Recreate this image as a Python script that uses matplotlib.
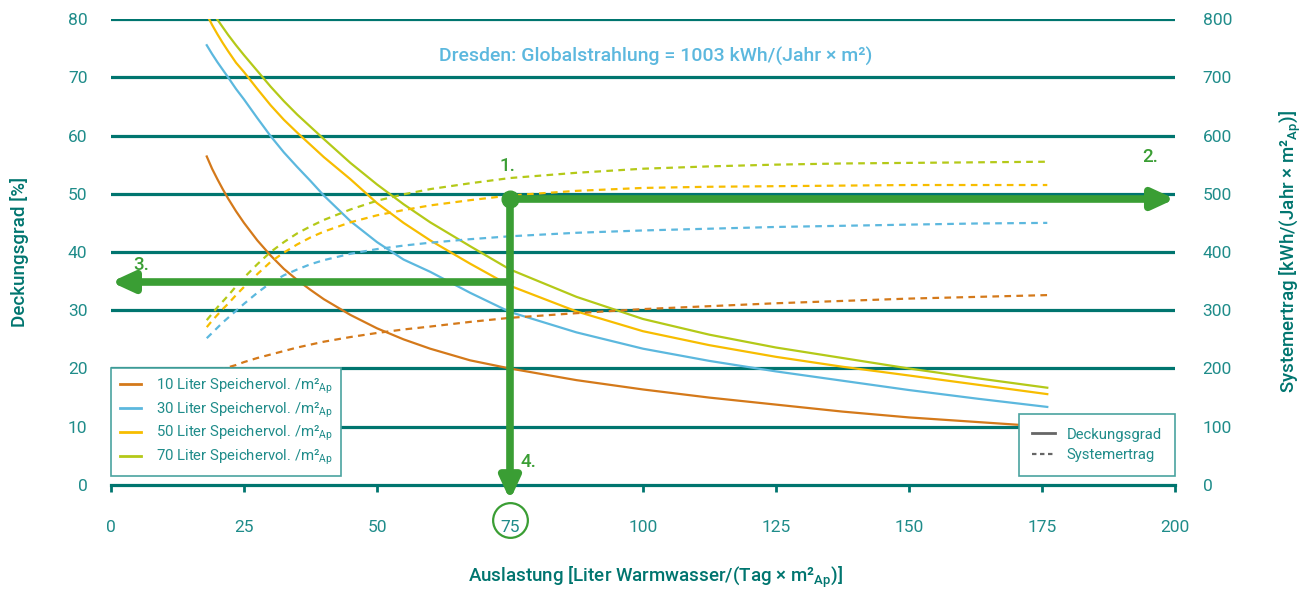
import matplotlib
matplotlib.use("Agg")
import matplotlib.pyplot as plt
from matplotlib.lines import Line2D

plt.rcParams['font.family'] = ['Roboto', 'DejaVu Sans']
plt.rcParams['mathtext.fontset'] = 'custom'
plt.rcParams['mathtext.rm'] = 'Roboto'
plt.rcParams['mathtext.default'] = 'regular'

# data
auslastung = [18, 19, 20, 21, 22, 23.5, 25, 27.5, 30, 32.5, 35, 37.5, 40, 45, 50, 55, 60,
              67.5, 75, 87.5, 100, 112.5, 125, 137.5, 150, 163, 176]
speicher = ["10", "30", "50", "70"]

# Deckungsgrad [%]
deckung_10 = [56.4, 54.3, 52.5, 50.8, 49.2, 47.0, 45.0, 42.0, 39.4, 37.1, 35.2, 33.5, 31.9, 29.2, 26.9,
              25.0, 23.4, 21.4, 20.0, 18.0, 16.4, 15.0, 13.8, 12.6, 11.6, 10.8, 10.0]
deckung_30 = [75.5, 74.0, 72.6, 71.3, 70.0, 68.0, 66.2, 63.0, 59.9, 57.1, 54.6, 52.2, 49.7, 45.3, 41.7,
              38.7, 36.6, 33.0, 29.7, 26.2, 23.4, 21.3, 19.5, 17.9, 16.3, 14.8, 13.4]
deckung_50 = [80.8, 79.0, 77.4, 75.9, 74.5, 72.5, 70.9, 68.0, 65.2, 62.7, 60.5, 58.4, 56.3, 52.5, 48.4,
              45.0, 42.0, 38.0, 34.2, 29.8, 26.4, 24.0, 22.0, 20.3, 18.8, 17.2, 15.6]
deckung_70 = [83.0, 81.4, 79.9, 78.6, 77.3, 75.5, 73.8, 71.1, 68.4, 65.9, 63.6, 61.5, 59.4, 55.3, 51.6,
              48.2, 45.1, 41.0, 37.0, 32.3, 28.5, 25.8, 23.6, 21.8, 20.0, 18.3, 16.7]

# Systemertrag [kWh/(Jahr m2)]
ertrag_10 = [192, 194, 197, 199, 202, 206, 211, 218, 224, 230, 236, 241, 246, 254, 261,
             267, 272, 280, 287, 295, 302, 307, 312, 316, 320, 323, 326]
ertrag_30 = [252, 261, 270, 279, 287, 299, 311, 330, 347, 360, 370, 379, 386, 397, 405,
             411, 416, 422, 427, 433, 437, 440, 443, 445, 447, 449, 450]
ertrag_50 = [271, 282, 292, 302, 311, 326, 340, 362, 383, 399, 413, 425, 435, 451, 463,
             472, 480, 489, 497, 505, 510, 512, 513, 514, 515, 515, 515]
ertrag_70 = [283, 294, 305, 315, 325, 341, 356, 379, 400, 417, 432, 444, 455, 473, 488,
             499, 508, 518, 527, 536, 543, 547, 550, 552, 553, 554, 555]

deckung = {"10": deckung_10, "30": deckung_30, "50": deckung_50, "70": deckung_70}
ertrag = {"10": ertrag_10, "30": ertrag_30, "50": ertrag_50, "70": ertrag_70}
farben = {"10": "#d4791a", "30": "#5cb8de", "50": "#f7bd00", "70": "#b4c918"}

# example reading: 75 l/(d m2) -> 491 kWh and 34.85 %
x_bsp = 75
ertrag_bsp = 491
deckung_bsp = 34.85

teal = "#00756f"
text_teal = "#1f8c8a"
green = "#3a9e34"

fig = plt.figure(figsize=(13.09, 5.89), dpi=100)
ax = fig.add_axes([0.0848, 0.1766, 0.8128, 0.7911])
ax2 = ax.twinx()

ax.set_xlim(0, 200)
ax.set_ylim(0, 80)
ax2.set_ylim(0, 800)

for y in range(10, 81, 10):
    ax.axhline(y, color=teal, lw=2.3, zorder=1)

for s in ["top", "left", "right"]:
    ax.spines[s].set_visible(False)
    ax2.spines[s].set_visible(False)
ax2.spines["bottom"].set_visible(False)
ax.spines["bottom"].set_color(teal)
ax.spines["bottom"].set_linewidth(2.3)

ax.set_xticks(range(0, 201, 25))
ax.set_yticks(range(0, 81, 10))
ax2.set_yticks(range(0, 801, 100))
ax.tick_params(axis="x", colors=teal, labelcolor=text_teal, length=5, width=2, pad=20, labelsize=12.5)
ax.tick_params(axis="y", length=0, labelcolor=text_teal, pad=17, labelsize=12.5)
ax2.tick_params(axis="y", length=0, labelcolor=text_teal, pad=20, labelsize=12.5)

for k in speicher:
    ax.plot(auslastung, deckung[k], color=farben[k], lw=1.6, zorder=3)
    ax2.plot(auslastung, ertrag[k], color=farben[k], lw=1.6, dashes=(3, 2.4), zorder=3)

ax.set_xlabel("Auslastung [Liter Warmwasser/(Tag × m²$_{Ap}$)]", color=teal, fontsize=13.5, fontweight="medium", labelpad=22)
ax.xaxis.label.set_x(0.512)
ax.set_ylabel("Deckungsgrad [%]", color=teal, fontsize=13.5, fontweight="medium", labelpad=28)
ax2.set_ylabel("Systemertrag [kWh/(Jahr × m²$_{Ap}$)]", color=teal, fontsize=13.5, fontweight="medium", labelpad=33)

ax.text(102.3, 73.5, "Dresden: Globalstrahlung = 1003 kWh/(Jahr × m²)", color="#5cb8de", fontsize=14,
        fontweight="medium", ha="center", va="center")

# green reading arrows on top
ax3 = ax.twinx()
ax3.set_ylim(0, 80)
ax3.axis("off")
y_top = ertrag_bsp / 10
arr = dict(arrowstyle="-|>,head_length=1.3,head_width=0.6", color=green, lw=5.5, shrinkA=0, shrinkB=0)
ax3.annotate("", xy=(200, y_top), xytext=(x_bsp, y_top), arrowprops=arr, annotation_clip=False)
ax3.annotate("", xy=(0, deckung_bsp), xytext=(x_bsp, deckung_bsp), arrowprops=arr, annotation_clip=False)
ax3.annotate("", xy=(x_bsp, -2.6), xytext=(x_bsp, y_top), arrowprops=arr, annotation_clip=False)
ax3.plot([x_bsp], [y_top], "o", color=green, ms=12, zorder=5)
ax3.plot([x_bsp], [-0.075], "o", transform=ax3.get_xaxis_transform(), ms=25, mfc="none", mec=green, mew=1.6, clip_on=False)

ax3.text(74.6, 54.8, "1.", color=green, fontsize=13.5, fontweight="medium", ha="center", va="center")
ax3.text(195.3, 56.3, "2.", color=green, fontsize=13.5, fontweight="medium", ha="center", va="center")
ax3.text(5.6, 37.8, "3.", color=green, fontsize=13.5, fontweight="medium", ha="center", va="center")
ax3.text(78.5, 3.9, "4.", color=green, fontsize=13.5, fontweight="medium", ha="center", va="center")

handles1 = [Line2D([], [], color=farben[k], lw=2) for k in speicher]
labels1 = [k + " Liter Speichervol. /m²$_{Ap}$" for k in speicher]
leg1 = ax3.legend(handles1, labels1, loc="lower left", bbox_to_anchor=(0, 0.019), borderaxespad=0,
                  fontsize=10.7, frameon=True, fancybox=False, handlelength=1.4, borderpad=0.6,
                  handletextpad=1.0, labelspacing=0.3, labelcolor=text_teal, edgecolor="#4aa3a0", framealpha=1)
leg1.get_frame().set_linewidth(1.2)
ax3.add_artist(leg1)

handles2 = [Line2D([], [], color="#666666", lw=2), Line2D([], [], color="#666666", lw=1.6, dashes=(2, 1.6))]
leg2 = ax3.legend(handles2, ["Deckungsgrad", "Systemertrag"], loc="lower right", bbox_to_anchor=(1.0, 0.02),
                  borderaxespad=0, fontsize=10.7, frameon=True, fancybox=False, handlelength=1.5,
                  borderpad=0.9, labelspacing=0.45, labelcolor=text_teal, edgecolor="#4aa3a0", framealpha=1)
leg2.get_frame().set_linewidth(1.2)

fig.savefig("out.png", dpi=100)
